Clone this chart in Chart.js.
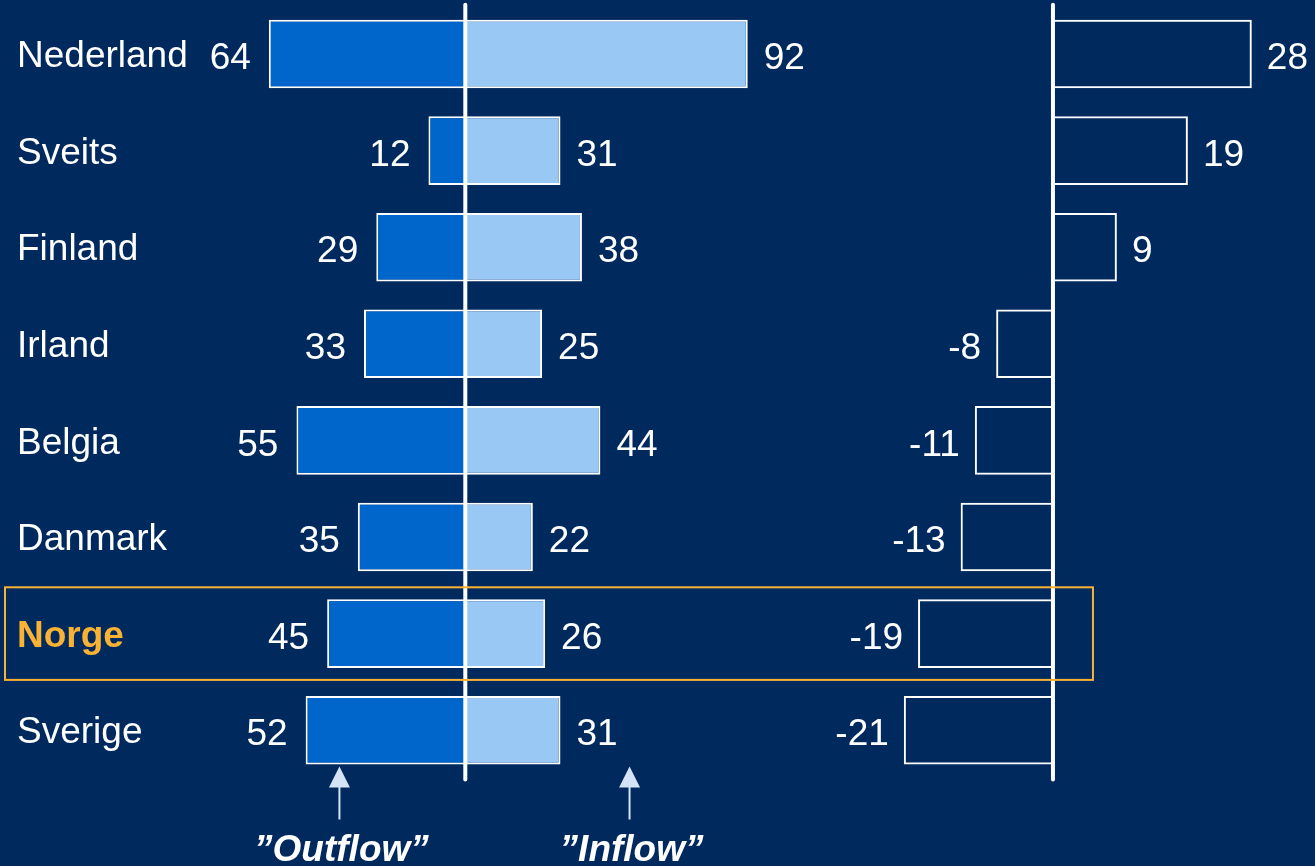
<!DOCTYPE html>
<html>
<head>
<meta charset="utf-8">
<script src="https://cdn.jsdelivr.net/npm/chart.js@4.4.1/dist/chart.umd.min.js"></script>
<style>
  html, body { margin: 0; padding: 0; background: #002A5E; }
  #wrap { position: relative; width: 1315px; height: 866px; }
</style>
</head>
<body>
<div id="wrap"><canvas id="flowChart"></canvas></div>
<script>
const countries = ['Nederland', 'Sveits', 'Finland', 'Irland', 'Belgia', 'Danmark', 'Norge', 'Sverige'];
const outflow = [64, 12, 29, 33, 55, 35, 45, 52];
const inflow = [92, 31, 38, 25, 44, 22, 26, 31];
const net = [28, 19, 9, -8, -11, -13, -19, -21];
const highlight = 'Norge';
const arrowLabels = ['\u201DOutflow\u201D', '\u201DInflow\u201D'];

const FONT = '"Liberation Sans", Arial, sans-serif';

// zero lines, value labels, highlight box, arrows
const flowExtras = {
    id: 'flowExtras',
    afterDatasetsDraw(chart) {
        const { ctx, chartArea, scales } = chart;
        ctx.save();
        ctx.strokeStyle = '#ffffff';
        ctx.lineWidth = 4;
        ctx.lineCap = 'round';
        ['x', 'x2'].forEach(id => {
            const px = scales[id].getPixelForValue(0);
            ctx.beginPath();
            ctx.moveTo(px, chartArea.top - 1);
            ctx.lineTo(px, chartArea.bottom + 1);
            ctx.stroke();
        });

        ctx.font = '37px ' + FONT;
        ctx.fillStyle = '#ffffff';
        ctx.textBaseline = 'middle';
        const texts = [outflow, inflow, net];
        const gaps = [18, 16, 15];
        chart.data.datasets.forEach((ds, di) => {
            chart.getDatasetMeta(di).data.forEach((bar, i) => {
                const neg = ds.data[i] < 0;
                ctx.textAlign = neg ? 'right' : 'left';
                ctx.fillText(String(texts[di][i]), bar.x + (neg ? -gaps[di] : gaps[di]), bar.y + 5);
            });
        });
        ctx.restore();
    },
    afterDraw(chart) {
        const { ctx, chartArea, scales } = chart;
        ctx.save();
        // highlight row
        const idx = countries.indexOf(highlight);
        const yc = scales.y.getPixelForValue(idx);
        const half = chartArea.height / countries.length / 2 - 2;
        const right = scales.x2.getPixelForValue(0) + 40;
        ctx.strokeStyle = '#F9B233';
        ctx.lineWidth = 2;
        ctx.strokeRect(5, yc - half, right - 5, half * 2);

        // arrows under the left panel
        const xs = [scales.x.getPixelForValue(-41), scales.x.getPixelForValue(53.5)];
        const b = chartArea.bottom;
        xs.forEach((x, k) => {
            ctx.strokeStyle = '#D4E4F6';
            ctx.fillStyle = '#D4E4F6';
            ctx.lineWidth = 2;
            ctx.beginPath();
            ctx.moveTo(x, b + 41);
            ctx.lineTo(x, b + 6);
            ctx.stroke();
            ctx.beginPath();
            ctx.moveTo(x, b - 12);
            ctx.lineTo(x - 10.5, b + 9);
            ctx.lineTo(x + 10.5, b + 9);
            ctx.closePath();
            ctx.fill();

            ctx.fillStyle = '#ffffff';
            ctx.font = 'italic bold 37px ' + FONT;
            ctx.textAlign = 'center';
            ctx.textBaseline = 'alphabetic';
            ctx.fillText(arrowLabels[k], x + 2, b + 82);
        });
        ctx.restore();
    }
};

const barDefaults = {
    grouped: false,
    barPercentage: 1,
    categoryPercentage: 0.71,
    borderWidth: 2,
    borderColor: '#ffffff',
    yAxisID: 'y'
};

const chart = new Chart(document.getElementById('flowChart'), {
    type: 'bar',
    data: {
        labels: countries,
        datasets: [
            { ...barDefaults, label: 'Outflow', data: outflow.map(v => -v), xAxisID: 'x', backgroundColor: '#0066CC' },
            { ...barDefaults, label: 'Inflow', data: inflow, xAxisID: 'x', backgroundColor: '#99C8F5' },
            { ...barDefaults, label: 'Netto', data: net, xAxisID: 'x2', backgroundColor: 'rgba(0,0,0,0)' }
        ]
    },
    options: {
        indexAxis: 'y',
        responsive: true,
        maintainAspectRatio: false,
        animation: false,
        layout: {
            padding: { left: 17, top: 5.7, right: 0, bottom: 87.5 }
        },
        plugins: {
            legend: { display: false },
            tooltip: { enabled: false }
        },
        scales: {
            y: {
                position: 'left',
                grid: { display: false },
                border: { display: false },
                ticks: {
                    autoSkip: false,
                    crossAlign: 'far',
                    padding: 0,
                    labelOffset: 3,
                    color: c => countries[c.index] === highlight ? '#F9B233' : '#ffffff',
                    font: c => ({ family: FONT, size: 37, weight: countries[c.index] === highlight ? 'bold' : 'normal' })
                },
                afterFit: s => { s.width = 172; s.paddingTop = 0; s.paddingBottom = 0; }
            },
            x: {
                type: 'linear', position: 'bottom', display: false,
                min: -90, max: 110,
                stack: 'panels', stackWeight: 614
            },
            x2: {
                type: 'linear', position: 'bottom', display: false,
                min: -35.2, max: 36.9,
                stack: 'panels', stackWeight: 512
            }
        }
    },
    plugins: [flowExtras]
});
</script>
</body>
</html>
